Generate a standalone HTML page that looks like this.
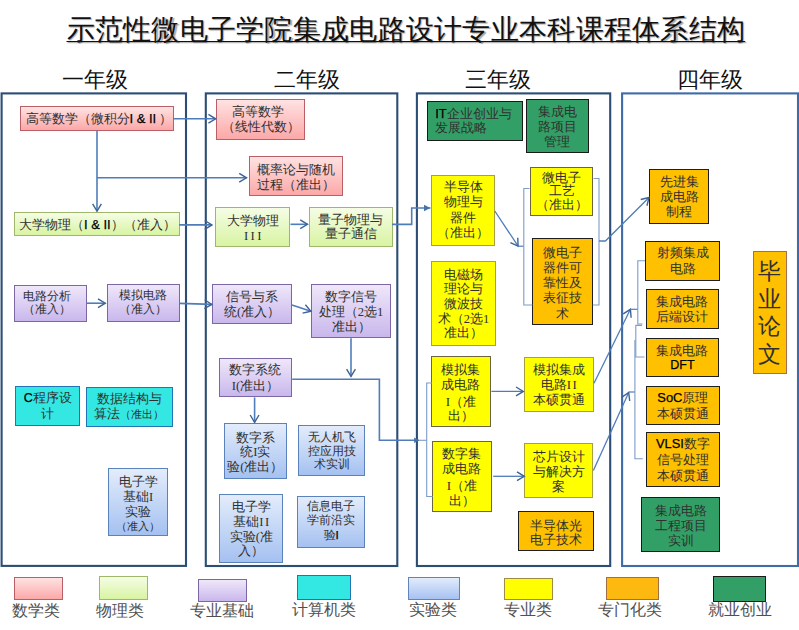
<!DOCTYPE html>
<html><head><meta charset="utf-8"><style>
html,body{margin:0;padding:0;background:#fff;}
body{width:799px;height:630px;position:relative;overflow:hidden;font-family:"Liberation Serif",serif;color:#303030;}
.bx{position:absolute;box-sizing:border-box;display:flex;align-items:center;justify-content:center;text-align:center;font-size:13px;line-height:15px;white-space:nowrap;}
.bx small{font-size:11px;}
.tx{position:relative;}
.s{font-family:"Liberation Sans",sans-serif;color:#000;-webkit-text-stroke:0.25px #000;}
.yr{position:absolute;top:66px;font-size:21.5px;line-height:28px;width:100px;text-align:center;color:#111;}
.lg{position:absolute;font-size:15.5px;line-height:20px;color:#505050;text-align:center;white-space:nowrap;}
.lgb{position:absolute;box-sizing:border-box;}
#title{position:absolute;left:66.5px;top:14px;font-size:28.2px;line-height:32px;letter-spacing:0.28px;color:#111;text-decoration:underline;text-underline-offset:2px;text-decoration-thickness:1.4px;white-space:nowrap;text-shadow:1.2px 1.2px 1px rgba(0,0,0,0.35);}
svg{position:absolute;left:0;top:0;}
</style></head><body>
<div id="title">示范性微电子学院集成电路设计专业本科课程体系结构</div>
<div class="yr" style="left:44.5px">一年级</div>
<div class="yr" style="left:256.5px">二年级</div>
<div class="yr" style="left:448px">三年级</div>
<div class="yr" style="left:660px">四年级</div>
<svg width="799" height="630" viewBox="0 0 799 630">
<rect x="1.6" y="93.4" width="184.4" height="472.5" fill="none" stroke="#2c4d75" stroke-width="2.1"/>
<rect x="205.8" y="93.4" width="191.5" height="472.6" fill="none" stroke="#2c4d75" stroke-width="2.1"/>
<rect x="416.9" y="93.4" width="193.3" height="472.6" fill="none" stroke="#2c4d75" stroke-width="2.1"/>
<rect x="622.1" y="93.4" width="175.9" height="472.6" fill="none" stroke="#3f6ba8" stroke-width="2.1"/>
</svg>
<div class="bx" style="border:1.3px solid #bb5f66;background:linear-gradient(#ffe2e2,#fca8a8);left:20px;top:106px;width:153.5px;height:24.6px;font-size:13px;line-height:15px;justify-content:flex-start;padding-left:4.5px;"><div class="tx" style="top:0.45px;left:0px"><div>高等数学（微积分<span class=s>I &amp; II</span> ）</div></div></div>
<div class="bx" style="border:1.3px solid #a0b66a;background:linear-gradient(#f5fde5,#d8f4a2);left:14px;top:212.3px;width:165.5px;height:24.2px;font-size:13px;line-height:15px;justify-content:flex-start;padding-left:4px;"><div class="tx" style="top:0.45px;left:0px"><div>大学物理（<span class=s>I &amp; II</span>）（准入）</div></div></div>
<div class="bx" style="border:1.3px solid #7c66a6;background:linear-gradient(#efe7fa,#c9b7ec);left:14px;top:284.9px;width:73.2px;height:37.1px;font-size:11.7px;line-height:13.2px;"><div class="tx" style="top:0.05px;left:-4px"><div>电路分析</div><div>（准入）</div></div></div>
<div class="bx" style="border:1.3px solid #7c66a6;background:linear-gradient(#efe7fa,#c9b7ec);left:106.9px;top:284.4px;width:72.8px;height:37.2px;font-size:11.7px;line-height:13.8px;"><div class="tx" style="top:0.30px;left:0px"><div>模拟电路</div><div>（准入）</div></div></div>
<div class="bx" style="border:1.3px solid #2274b4;background:#33e8e2;left:14.9px;top:385.7px;width:65.5px;height:40.3px;font-size:12.5px;line-height:15.6px;"><div class="tx" style="top:0.85px;left:0px"><div><span class=s>C</span>程序设</div><div>计</div></div></div>
<div class="bx" style="border:1.3px solid #2274b4;background:#33e8e2;left:86.1px;top:387px;width:86.8px;height:39.5px;font-size:12.8px;line-height:15px;"><div class="tx" style="top:0.65px;left:0px"><div>数据结构与</div><div>算法<small>（准出）</small></div></div></div>
<div class="bx" style="border:1.3px solid #5a82bb;background:linear-gradient(#e3ecfb,#a5c1f1);left:108.2px;top:467.6px;width:59.7px;height:68.1px;font-size:12.6px;line-height:15.2px;"><div class="tx" style="top:2.00px;left:0px"><div>电子学</div><div>基础I</div><div>实验</div><div style="line-height:12px"><small>（准入）</small></div></div></div>
<div class="bx" style="border:1.3px solid #bb5f66;background:linear-gradient(#ffe2e2,#fca8a8);left:216.4px;top:98.7px;width:88.4px;height:40.9px;font-size:13px;line-height:14.4px;"><div class="tx" style="top:0.70px;left:0px"><div><span style="position:relative;left:-2.5px">高等数学</span></div><div>（线性代数）</div></div></div>
<div class="bx" style="border:1.3px solid #bb5f66;background:linear-gradient(#ffe2e2,#fca8a8);left:248.5px;top:156.4px;width:94.6px;height:39.9px;font-size:13px;line-height:15px;"><div class="tx" style="top:1.00px;left:0px"><div>概率论与随机</div><div>过程（准出）</div></div></div>
<div class="bx" style="border:1.3px solid #a0b66a;background:linear-gradient(#f5fde5,#d8f4a2);left:215.1px;top:207.3px;width:75.3px;height:39.9px;font-size:12.8px;line-height:14.5px;"><div class="tx" style="top:1.40px;left:0px"><div>大学物理</div><div><span style="letter-spacing:2.3px;margin-right:-2.3px">III</span></div></div></div>
<div class="bx" style="border:1.3px solid #a0b66a;background:linear-gradient(#f5fde5,#d8f4a2);left:308.5px;top:206.5px;width:84.0px;height:40.1px;font-size:12.8px;line-height:14.4px;"><div class="tx" style="top:0.90px;left:0px"><div>量子物理与</div><div>量子通信</div></div></div>
<div class="bx" style="border:1.3px solid #7c66a6;background:linear-gradient(#efe7fa,#c9b7ec);left:212.2px;top:284.3px;width:79.7px;height:40.2px;font-size:12.9px;line-height:15.4px;"><div class="tx" style="top:0.80px;left:0px"><div>信号与系</div><div>统(准入）</div></div></div>
<div class="bx" style="border:1.3px solid #7c66a6;background:linear-gradient(#efe7fa,#c9b7ec);left:311.3px;top:284.3px;width:79.5px;height:53.9px;font-size:12.7px;line-height:14.9px;"><div class="tx" style="top:1.30px;left:0px"><div>数字信号</div><div>处理（2选1</div><div>准出）</div></div></div>
<div class="bx" style="border:1.3px solid #7c66a6;background:linear-gradient(#efe7fa,#c9b7ec);left:219.3px;top:357.8px;width:72.3px;height:39.6px;font-size:12.8px;line-height:15.3px;"><div class="tx" style="top:0.95px;left:0px"><div>数字系统</div><div>I(准出）</div></div></div>
<div class="bx" style="border:1.3px solid #5a82bb;background:linear-gradient(#e3ecfb,#a5c1f1);left:224px;top:423.3px;width:62.5px;height:56.0px;font-size:12.7px;line-height:14.75px;"><div class="tx" style="top:1.35px;left:0px"><div>数字系</div><div>统I实</div><div>验(准出）</div></div></div>
<div class="bx" style="border:1.3px solid #5a82bb;background:linear-gradient(#e3ecfb,#a5c1f1);left:298.2px;top:425.3px;width:67.2px;height:51.2px;font-size:11.5px;line-height:13.5px;"><div class="tx" style="top:0.70px;left:0px"><div>无人机飞</div><div>控应用技</div><div>术实训</div></div></div>
<div class="bx" style="border:1.3px solid #5a82bb;background:linear-gradient(#e3ecfb,#a5c1f1);left:219.3px;top:493.7px;width:64.2px;height:69.7px;font-size:12.8px;line-height:14.8px;"><div class="tx" style="top:1.15px;left:0px"><div>电子学</div><div>基础<span style="letter-spacing:1.5px;margin-right:-1.5px">II</span></div><div>实验(准</div><div>入）</div></div></div>
<div class="bx" style="border:1.3px solid #5a82bb;background:linear-gradient(#e3ecfb,#a5c1f1);left:297.4px;top:496.2px;width:67.6px;height:51.4px;font-size:11.7px;line-height:14.1px;"><div class="tx" style="top:0.05px;left:0px"><div>信息电子</div><div>学前沿实</div><div>验<span class=s>I</span></div></div></div>
<div class="bx" style="border:1.5px solid #1a1a1a;background:#32a066;left:427.2px;top:101.3px;width:95.8px;height:39.4px;font-size:12.8px;line-height:13.7px;text-align:left;justify-content:flex-start;padding-left:7px;"><div class="tx" style="top:0.45px;left:0px"><div><span class=s>IT</span>企业创业与</div><div>发展战略</div></div></div>
<div class="bx" style="border:1.5px solid #1a1a1a;background:#32a066;left:525.7px;top:98.6px;width:63.2px;height:54.8px;font-size:12.5px;line-height:15px;"><div class="tx" style="top:1.10px;left:0px"><div>集成电</div><div>路项目</div><div>管理</div></div></div>
<div class="bx" style="border:1.3px solid #a8a040;background:#ffff00;left:431.2px;top:175.2px;width:63.8px;height:70.6px;font-size:12.9px;line-height:15.5px;"><div class="tx" style="top:0.35px;left:0px"><div>半导体</div><div>物理与</div><div>器件</div><div>（准出）</div></div></div>
<div class="bx" style="border:1.3px solid #6e6440;background:#ffff00;left:529.7px;top:166.5px;width:63.8px;height:49.9px;font-size:12.9px;line-height:13.3px;"><div class="tx" style="top:0.55px;left:0px"><div>微电子</div><div>工艺</div><div>（准出）</div></div></div>
<div class="bx" style="border:1.5px solid #1e1e1e;background:#ffc000;left:532.3px;top:238.4px;width:60.3px;height:86.8px;font-size:13px;line-height:15.3px;"><div class="tx" style="top:1.00px;left:0px"><div>微电子</div><div>器件可</div><div>靠性及</div><div>表征技</div><div>术</div></div></div>
<div class="bx" style="border:1.3px solid #a8a040;background:#ffff00;left:430.7px;top:260.5px;width:65.7px;height:85.1px;font-size:12.5px;line-height:14.7px;"><div class="tx" style="top:1.35px;left:0px"><div>电磁场</div><div>理论与</div><div>微波技</div><div>术（2选1</div><div>准出）</div></div></div>
<div class="bx" style="border:1.3px solid #6e6440;background:#ffff00;left:431.2px;top:355.8px;width:59.4px;height:71.5px;font-size:13px;line-height:14.7px;"><div class="tx" style="top:1.85px;left:0px"><div>模拟集</div><div>成电路</div><div style="margin-top:2.3px">I（准</div><div>出）</div></div></div>
<div class="bx" style="border:1.3px solid #a8a040;background:#ffff00;left:524px;top:357.4px;width:69.5px;height:54.8px;font-size:12.75px;line-height:15.2px;"><div class="tx" style="top:1.00px;left:0px"><div>模拟集成</div><div>电路<span style="letter-spacing:1.5px;margin-right:-1.5px">II</span></div><div>本硕贯通</div></div></div>
<div class="bx" style="border:1.3px solid #6e6440;background:#ffff00;left:432.4px;top:440.5px;width:59.2px;height:71.8px;font-size:13px;line-height:14.7px;"><div class="tx" style="top:1.55px;left:0px"><div>数字集</div><div>成电路</div><div style="margin-top:2.3px">I（准</div><div>出）</div></div></div>
<div class="bx" style="border:1.3px solid #a8a040;background:#ffff00;left:524.4px;top:442.6px;width:68.6px;height:55.3px;font-size:12.75px;line-height:14.9px;"><div class="tx" style="top:1.90px;left:0px"><div>芯片设计</div><div>与解决方</div><div>案</div></div></div>
<div class="bx" style="border:1.5px solid #1e1e1e;background:#ffc000;left:518.3px;top:511.2px;width:75.6px;height:39.6px;font-size:12.55px;line-height:14px;"><div class="tx" style="top:2.15px;left:0px"><div>半导体光</div><div>电子技术</div></div></div>
<div class="bx" style="border:1.5px solid #1e1e1e;background:#ffc000;left:649.4px;top:168.6px;width:60.0px;height:55.7px;font-size:12.7px;line-height:15.3px;"><div class="tx" style="top:1.35px;left:0px"><div>先进集</div><div>成电路</div><div>制程</div></div></div>
<div class="bx" style="border:1.5px solid #1e1e1e;background:#ffc000;left:645.3px;top:241.1px;width:75.0px;height:39.5px;font-size:12.9px;line-height:16.3px;"><div class="tx" style="top:0.55px;left:0px"><div>射频集成</div><div>电路</div></div></div>
<div class="bx" style="border:1.5px solid #1e1e1e;background:#ffc000;left:645.5px;top:289.1px;width:73.9px;height:39.7px;font-size:12.9px;line-height:14.8px;"><div class="tx" style="top:0.70px;left:0px"><div>集成电路</div><div>后端设计</div></div></div>
<div class="bx" style="border:1.5px solid #1e1e1e;background:#ffc000;left:645.5px;top:337.6px;width:73.9px;height:39.8px;font-size:12.9px;line-height:14.65px;"><div class="tx" style="top:1.00px;left:0px"><div>集成电路</div><div><span class=s><span style="font-size:12.5px">DFT</span></span></div></div></div>
<div class="bx" style="border:1.5px solid #1e1e1e;background:#ffc000;left:645.5px;top:385.8px;width:74.8px;height:39.6px;font-size:12.9px;line-height:15.6px;"><div class="tx" style="top:0.90px;left:0px"><div><span class=s>SoC</span>原理</div><div>本硕贯通</div></div></div>
<div class="bx" style="border:1.5px solid #1e1e1e;background:#ffc000;left:645.5px;top:431.8px;width:74.8px;height:55.4px;font-size:12.9px;line-height:16px;"><div class="tx" style="top:0.65px;left:0px"><div><span class=s>VLSI</span>数字</div><div>信号处理</div><div>本硕贯通</div></div></div>
<div class="bx" style="border:1.5px solid #1a1a1a;background:#32a066;left:640.5px;top:496.8px;width:79.8px;height:55.7px;font-size:12.75px;line-height:15.2px;"><div class="tx" style="top:2.10px;left:0.8px"><div>集成电路</div><div>工程项目</div><div>实训</div></div></div>
<div class="bx" style="border:1.3px solid #a07050;background:#ffc000;left:753.1px;top:251px;width:33.8px;height:122.5px;font-size:22.5px;line-height:27.6px;font-family:"Liberation Sans",sans-serif;"><div class="tx" style="top:1.00px;left:0px"><div>毕</div><div>业</div><div>论</div><div>文</div></div></div>
<div class="lgb" style="border:1.3px solid #bb5f66;background:linear-gradient(#ffe2e2,#fca8a8);left:13.8px;top:576.5px;width:49.2px;height:23.9px;"></div>
<div class="lg" style="left:-3.549999999999997px;top:600.9px;width:80px">数学类</div>
<div class="lgb" style="border:1.3px solid #a0b66a;background:linear-gradient(#f5fde5,#d8f4a2);left:98.5px;top:576.4px;width:49.4px;height:23.8px;"></div>
<div class="lg" style="left:79.6px;top:601.4px;width:80px">物理类</div>
<div class="lgb" style="border:1.3px solid #7c66a6;background:linear-gradient(#efe7fa,#c9b7ec);left:198.1px;top:578.5px;width:48.7px;height:23.0px;"></div>
<div class="lg" style="left:181.7px;top:601.0px;width:80px">专业基础</div>
<div class="lgb" style="border:1.3px solid #2274b4;background:#33e8e2;left:297.1px;top:575.4px;width:53.8px;height:24.8px;"></div>
<div class="lg" style="left:283.65px;top:599.5px;width:80px">计算机类</div>
<div class="lgb" style="border:1.3px solid #6084bb;background:linear-gradient(#e2ebfb,#a6c2f1);left:408.3px;top:577.2px;width:51.7px;height:23.0px;"></div>
<div class="lg" style="left:393.4px;top:600.4px;width:80px">实验类</div>
<div class="lgb" style="border:1.3px solid #a08a48;background:#ffff00;left:504.2px;top:577.7px;width:48.8px;height:22.5px;"></div>
<div class="lg" style="left:488.4px;top:600.4px;width:80px">专业类</div>
<div class="lgb" style="border:1.3px solid #a07040;background:#fdb910;left:605.6px;top:576.6px;width:53.7px;height:23.2px;"></div>
<div class="lg" style="left:590px;top:599.9px;width:80px">专门化类</div>
<div class="lgb" style="border:1.5px solid #1a1a1a;background:#32a066;left:712.7px;top:576.3px;width:53.2px;height:25.9px;"></div>
<div class="lg" style="left:700px;top:600.4px;width:80px">就业创业</div>
<svg width="799" height="630" viewBox="0 0 799 630"><defs><marker id="av" viewBox="0 0 8 10" refX="7.6" refY="5" markerWidth="8" markerHeight="10" markerUnits="userSpaceOnUse" orient="auto" overflow="visible"><path d="M0.3,0.6 L7.6,5 L0.3,9.4" fill="none" stroke="#3d6396" stroke-width="1.4"/></marker><marker id="as" viewBox="0 0 7 7" refX="6.4" refY="3.2" markerWidth="7" markerHeight="7" markerUnits="userSpaceOnUse" orient="auto" overflow="visible"><path d="M0,0 L6.4,3.2 L0,6.4 z" fill="#4a72aa"/></marker><marker id="as2" viewBox="0 0 6 6" refX="5" refY="2.8" markerWidth="6" markerHeight="6" markerUnits="userSpaceOnUse" orient="auto" overflow="visible"><path d="M0,0 L5,2.8 L0,5.6 z" fill="#4a72aa"/></marker></defs>
<polyline points="173,118.8 215.7,118.8" fill="none" stroke="#4f7dba" stroke-width="1.6" marker-end="url(#av)"/>
<polyline points="97,130.6 97,211.2" fill="none" stroke="#4f7dba" stroke-width="1.6" marker-end="url(#av)"/>
<polyline points="97,177.8 246.5,177.8" fill="none" stroke="#4f7dba" stroke-width="1.6" marker-end="url(#av)"/>
<polyline points="179.1,224.9 212,224.9" fill="none" stroke="#4f7dba" stroke-width="1.6" marker-end="url(#av)"/>
<polyline points="290.5,224.3 307.5,224.3" fill="none" stroke="#4f7dba" stroke-width="1.6" marker-end="url(#av)"/>
<polyline points="392,224.4 411.7,224.4 411.7,208 430.4,208" fill="none" stroke="#4f7dba" stroke-width="1.6" marker-end="url(#as)"/>
<polyline points="86.5,303.2 105.3,303.2" fill="none" stroke="#4f7dba" stroke-width="1.6" marker-end="url(#av)"/>
<polyline points="179.5,303.4 211.8,304.4" fill="none" stroke="#4f7dba" stroke-width="1.6" marker-end="url(#av)"/>
<polyline points="292,304.9 310.9,311.2" fill="none" stroke="#4f7dba" stroke-width="1.6" marker-end="url(#av)"/>
<polyline points="351,338.3 351,376.4" fill="none" stroke="#4f7dba" stroke-width="1.6" marker-end="url(#av)"/>
<polyline points="292.2,379.2 379.4,379.2 379.4,440.3 419.1,440.3" fill="none" stroke="#4f7dba" stroke-width="1.6" marker-end="url(#as2)"/>
<polyline points="254.6,397.4 254.6,422.3" fill="none" stroke="#4f7dba" stroke-width="1.6" marker-end="url(#av)"/>
<polyline points="419,440.3 426.7,440.3" fill="none" stroke="#7d9cc8" stroke-width="1.1"/>
<polyline points="432,383 426.7,383 426.7,496.5 432.7,496.5" fill="none" stroke="#7d9cc8" stroke-width="1.1"/>
<polyline points="494.8,211 518.1,246.2" fill="none" stroke="#4f7dba" stroke-width="1.3" marker-end="url(#av)"/>
<polyline points="518.1,246.2 523.8,246.2" fill="none" stroke="#4f7dba" stroke-width="1.2"/>
<polyline points="529.5,188.5 523.8,188.5 523.8,305 532.4,305" fill="none" stroke="#7d9cc8" stroke-width="1.1"/>
<polyline points="593.6,178.5 599,178.5 599,305 592.7,305" fill="none" stroke="#7d9cc8" stroke-width="1.1"/>
<polyline points="599,241 605.4,241 649,197.5" fill="none" stroke="#4f7dba" stroke-width="1.3" marker-end="url(#av)"/>
<polyline points="491.4,391.4 523.3,391.4" fill="none" stroke="#4f7dba" stroke-width="1.3" marker-end="url(#av)"/>
<polyline points="493.2,476.3 524.3,476.3" fill="none" stroke="#4f7dba" stroke-width="1.3" marker-end="url(#av)"/>
<polyline points="594,383.3 630.4,309.3" fill="none" stroke="#4f7dba" stroke-width="1.3" marker-end="url(#av)"/>
<polyline points="630.4,309.3 637.9,309.3" fill="none" stroke="#4f7dba" stroke-width="1.2"/>
<polyline points="645,260.8 637.8,260.8 637.8,324 642.5,324" fill="none" stroke="#7d9cc8" stroke-width="1.1"/>
<polyline points="642,325.4 635.8,325.4 635.8,357 644.4,357" fill="none" stroke="#7d9cc8" stroke-width="1.1"/>
<polyline points="593.4,470.4 628.7,392.5" fill="none" stroke="#4f7dba" stroke-width="1.3" marker-end="url(#av)"/>
<polyline points="628.7,392 634.9,392" fill="none" stroke="#4f7dba" stroke-width="1.2"/>
<polyline points="634.9,340 634.9,458.7 642.8,458.7" fill="none" stroke="#7d9cc8" stroke-width="1.1"/>
</svg>
</body></html>
